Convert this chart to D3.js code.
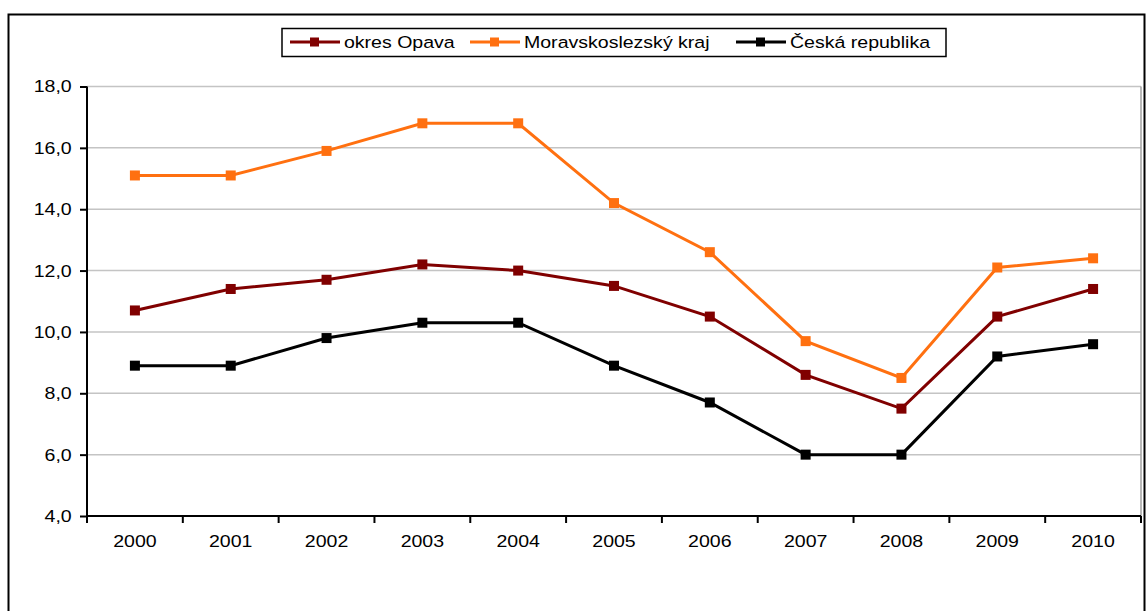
<!DOCTYPE html>
<html>
<head>
<meta charset="utf-8">
<script src="https://cdn.jsdelivr.net/npm/d3@7"></script>
<style>
  body { margin: 0; background: #fff; }
  text { font-family: "Liberation Sans", Arial, sans-serif; }
</style>
</head>
<body>
<div id="chart"></div>
<script>
var years = ["2000", "2001", "2002", "2003", "2004", "2005", "2006", "2007", "2008", "2009", "2010"];
var opava = [10.7, 11.4, 11.7, 12.2, 12.0, 11.5, 10.5, 8.6, 7.5, 10.5, 11.4];
var msk = [15.1, 15.1, 15.9, 16.8, 16.8, 14.2, 12.6, 9.7, 8.5, 12.1, 12.4];
var cr = [8.9, 8.9, 9.8, 10.3, 10.3, 8.9, 7.7, 6.0, 6.0, 9.2, 9.6];
var seriesNames = ["okres Opava", "Moravskoslezský kraj", "Česká republika"];
var seriesColors = ["#800000", "#ff7010", "#000000"];
var yTicks = [4, 6, 8, 10, 12, 14, 16, 18];

var W = 1147, H = 611;
var margin = { top: 86.5, right: 6, bottom: 95, left: 87 },
    width = W - margin.left - margin.right,
    height = H - margin.top - margin.bottom;

// the original text is a bit wide, so stretch it horizontally
var stretch = "scale(1.15,1)";

var svg = d3.select("#chart").append("svg")
    .attr("width", W)
    .attr("height", H);

// outer frame
svg.append("rect")
    .attr("x", 8.5).attr("y", 14.5)
    .attr("width", 1136).attr("height", 640)
    .attr("fill", "none")
    .attr("stroke", "#000")
    .attr("stroke-width", 2);

var g = svg.append("g")
    .attr("transform", "translate(" + margin.left + "," + margin.top + ")");

var x = d3.scaleBand().domain(years).range([0, width]);
var y = d3.scaleLinear().domain([4, 18]).range([height, 0]);

// gridlines
g.selectAll(".grid")
    .data(yTicks.slice(1))
    .enter().append("line")
    .attr("x1", 0).attr("x2", width)
    .attr("y1", function(d) { return y(d); })
    .attr("y2", function(d) { return y(d); })
    .attr("stroke", "#c4c4c4")
    .attr("stroke-width", 1.5);

// right plot border
g.append("line")
    .attr("x1", width).attr("x2", width)
    .attr("y1", 0).attr("y2", height)
    .attr("stroke", "#a0a0a0")
    .attr("stroke-width", 1.5);

// y axis
var yAxis = g.append("g")
    .call(d3.axisLeft(y).tickValues(yTicks).tickSize(7).tickPadding(6.3)
        .tickFormat(function(d) { return d3.format(".1f")(d).replace(".", ","); }));
yAxis.select(".domain").attr("stroke-width", 2).attr("d", "M0," + height + "V0");
yAxis.selectAll(".tick line").attr("stroke-width", 2);
yAxis.selectAll("text")
    .style("font-size", "17px")
    .attr("fill", "#000")
    .attr("transform", stretch);

// x axis with ticks at band boundaries
var xAxis = g.append("g")
    .attr("transform", "translate(0," + height + ")")
    .call(d3.axisBottom(x).tickSize(0).tickPadding(19));
xAxis.select(".domain").attr("stroke-width", 2).attr("d", "M0,0H" + width);
xAxis.selectAll("text")
    .style("font-size", "17px")
    .attr("fill", "#000")
    .attr("transform", stretch);
xAxis.selectAll(".bnd")
    .data(years.map(function(d) { return x(d); }).concat([width]))
    .enter().append("line")
    .attr("x1", function(d) { return d; }).attr("x2", function(d) { return d; })
    .attr("y1", 0).attr("y2", 7)
    .attr("stroke", "#000")
    .attr("stroke-width", 2);

var line = d3.line()
    .x(function(d, i) { return x(years[i]) + x.bandwidth() / 2; })
    .y(function(d) { return y(d); });

var allSeries = [opava, msk, cr];

allSeries.forEach(function(vals, si) {
    g.append("path")
        .datum(vals)
        .attr("d", line)
        .attr("fill", "none")
        .attr("stroke", seriesColors[si])
        .attr("stroke-width", 3);
    g.selectAll(".m" + si)
        .data(vals)
        .enter().append("rect")
        .attr("x", function(d, i) { return x(years[i]) + x.bandwidth() / 2 - 5; })
        .attr("y", function(d) { return y(d) - 5; })
        .attr("width", 10).attr("height", 10)
        .attr("fill", seriesColors[si]);
});

// legend
var legend = svg.append("g");
legend.append("rect")
    .attr("x", 282).attr("y", 28.5)
    .attr("width", 664).attr("height", 28)
    .attr("fill", "#fff")
    .attr("stroke", "#000")
    .attr("stroke-width", 1.5);

var legendX = [290, 470, 736];
seriesNames.forEach(function(name, i) {
    var lx = legendX[i];
    legend.append("line")
        .attr("x1", lx).attr("x2", lx + 50)
        .attr("y1", 42).attr("y2", 42)
        .attr("stroke", seriesColors[i])
        .attr("stroke-width", 3);
    legend.append("rect")
        .attr("x", lx + 20).attr("y", 37.5)
        .attr("width", 9).attr("height", 9)
        .attr("fill", seriesColors[i]);
    legend.append("g")
        .attr("transform", "translate(" + (lx + 54) + ",47.5)")
        .append("text")
        .attr("transform", stretch)
        .style("font-size", "17px")
        .text(name);
});
</script>
</body>
</html>
